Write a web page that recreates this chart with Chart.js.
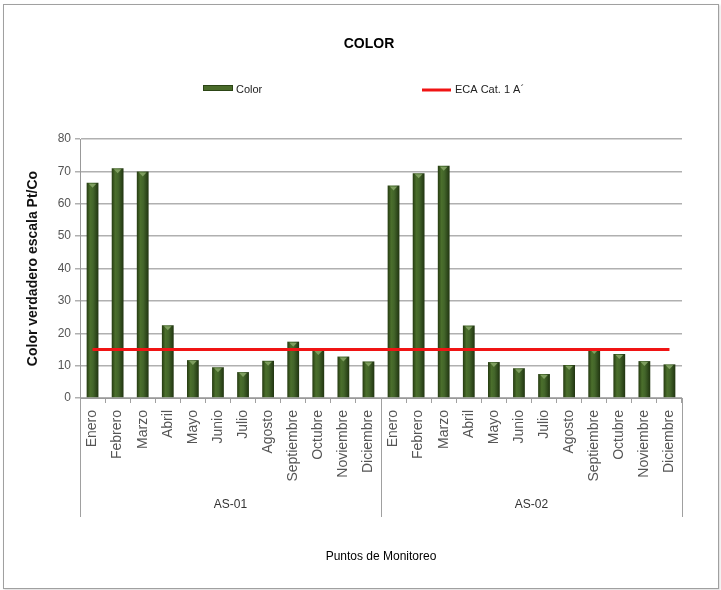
<!DOCTYPE html>
<html>
<head>
<meta charset="utf-8">
<title>COLOR</title>
<script src="https://cdn.jsdelivr.net/npm/chart.js@4.4.1/dist/chart.umd.min.js"></script>
<style>
  html, body { margin: 0; padding: 0; background: #fff; }
  #wrap { position: relative; width: 721px; height: 590px; }
  #colorChart { display: block; }
  #frame {
    position: absolute; left: 3px; top: 4px; width: 714px; height: 583px;
    border: 1px solid #a0a0a0; box-shadow: 1px 1px 2px rgba(0,0,0,0.15);
    pointer-events: none;
  }
</style>
</head>
<body>
<div id="wrap">
  <canvas id="colorChart" width="721" height="590"></canvas>
  <div id="frame"></div>
</div>
<script>
// chart data
const chartTitle = 'COLOR';
const months = ['Enero', 'Febrero', 'Marzo', 'Abril', 'Mayo', 'Junio', 'Julio', 'Agosto', 'Septiembre', 'Octubre', 'Noviembre', 'Diciembre'];
const stations = ['AS-01', 'AS-02'];
const colorAS01 = [66.5, 71, 70, 22.5, 11.7, 9.5, 8, 11.5, 17.4, 14.8, 12.8, 11.3];
const colorAS02 = [65.6, 69.4, 71.7, 22.4, 11.1, 9.2, 7.4, 10.2, 15.1, 13.6, 11.4, 10.4];
const ecaLimit = [15, 15, 15, 15, 15, 15, 15, 15, 15, 15, 15, 15, 15, 15, 15, 15, 15, 15, 15, 15, 15, 15, 15, 15];
const yMin = 0, yMax = 80, yStep = 10;

const categories = stations.flatMap(() => months);
const colorValues = colorAS01.concat(colorAS02);

const FONT = "'Liberation Sans', Arial, sans-serif";
const barPct = 0.47;

// cylinder-like shading for each bar
function barFill(context) {
  const chart = context.chart;
  const xScale = chart.scales.x;
  if (!xScale || context.dataIndex === undefined) return '#3f5f22';
  const x = xScale.getPixelForValue(context.dataIndex);
  const half = (xScale.width / categories.length) * barPct / 2;
  if (!Number.isFinite(x) || !Number.isFinite(half) || half <= 0) return '#3f5f22';
  const g = chart.ctx.createLinearGradient(x - half, 0, x + half, 0);
  g.addColorStop(0, '#243a10');
  g.addColorStop(0.3, '#4b6f2c');
  g.addColorStop(0.55, '#43652a');
  g.addColorStop(1, '#203410');
  return g;
}

// title, legend, station groups and bar caps
const decorPlugin = {
  id: 'decor',
  afterDatasetDraw(chart, args) {
    if (args.meta.type !== 'bar') return;
    const ctx = chart.ctx;
    ctx.save();
    ctx.fillStyle = '#7e9e5f';
    args.meta.data.forEach(bar => {
      const p = bar.getProps(['x', 'y', 'width'], true);
      const w = p.width * 0.32;
      ctx.beginPath();
      ctx.moveTo(p.x - w, p.y + 1);
      ctx.lineTo(p.x + w, p.y + 1);
      ctx.lineTo(p.x, p.y + 5);
      ctx.closePath();
      ctx.fill();
    });
    ctx.restore();
  },
  afterDraw(chart) {
    const ctx = chart.ctx;
    const xs = chart.scales.x;
    const ds = chart.data.datasets;
    ctx.save();

    // title
    ctx.fillStyle = '#000';
    ctx.font = 'bold 14px ' + FONT;
    ctx.textAlign = 'center';
    ctx.textBaseline = 'middle';
    ctx.fillText(chartTitle, 369, 44);

    // legend
    ctx.font = '11px ' + FONT;
    ctx.textAlign = 'left';
    ctx.fillStyle = '#4a6b2a';
    ctx.fillRect(203, 85, 30, 6);
    ctx.strokeStyle = '#2c4516';
    ctx.lineWidth = 1;
    ctx.strokeRect(203.5, 85.5, 29, 5);
    ctx.fillStyle = '#222';
    ctx.fillText(ds[0].label, 236, 90);
    ctx.strokeStyle = ds[1].borderColor;
    ctx.lineWidth = 3;
    ctx.beginPath();
    ctx.moveTo(422, 90);
    ctx.lineTo(451, 90);
    ctx.stroke();
    ctx.fillText(ds[1].label, 455, 90);

    // station group separators and labels
    const bottom = chart.chartArea.bottom;
    ctx.strokeStyle = '#a0a0a0';
    ctx.lineWidth = 1;
    const edges = [xs.left];
    stations.forEach((s, i) => {
      const last = (i + 1) * months.length - 1;
      edges.push(i === stations.length - 1 ? xs.right
        : (xs.getPixelForValue(last) + xs.getPixelForValue(last + 1)) / 2);
    });
    edges.forEach(x => {
      ctx.beginPath();
      ctx.moveTo(Math.round(x) + 0.5, bottom);
      ctx.lineTo(Math.round(x) + 0.5, bottom + 119);
      ctx.stroke();
    });
    ctx.font = '12px ' + FONT;
    ctx.fillStyle = '#333';
    ctx.textAlign = 'center';
    stations.forEach((s, i) => {
      const a = xs.getPixelForValue(i * months.length);
      const b = xs.getPixelForValue((i + 1) * months.length - 1);
      ctx.fillText(s, (a + b) / 2, 505);
    });
    ctx.restore();
  }
};

const ctx = document.getElementById('colorChart').getContext('2d');
const colorChart = new Chart(ctx, {
  type: 'bar',
  data: {
    labels: categories,
    datasets: [{
      type: 'bar',
      label: 'Color',
      data: colorValues,
      backgroundColor: barFill,
      borderWidth: 0,
      barPercentage: barPct,
      categoryPercentage: 1,
      order: 1
    }, {
      type: 'line',
      label: 'ECA Cat. 1 A´',
      data: ecaLimit,
      borderColor: '#f01414',
      borderWidth: 3,
      pointRadius: 0,
      fill: false,
      order: 0
    }]
  },
  options: {
    responsive: false,
    animation: false,
    layout: { padding: { top: 139, left: 14, right: 39, bottom: 20 } },
    plugins: {
      legend: { display: false },
      title: { display: false },
      tooltip: { enabled: false }
    },
    scales: {
      x: {
        afterFit(scale) { scale.height = 172; },
        grid: { drawOnChartArea: false, drawTicks: true, tickLength: 5, color: '#a0a0a0' },
        border: { display: true, color: '#999' },
        ticks: {
          autoSkip: false, minRotation: 90, maxRotation: 90, padding: 7,
          color: '#555', font: { family: FONT, size: 14 }
        },
        title: {
          display: true, text: 'Puntos de Monitoreo', color: '#000',
          font: { family: FONT, size: 12 }, padding: { top: 0, bottom: 6 }
        }
      },
      y: {
        min: yMin, max: yMax,
        afterFit(scale) { scale.width = 66; },
        grid: { color: '#b0b0b0', lineWidth: 1.5, tickLength: 5 },
        border: { display: true, color: '#999' },
        ticks: { stepSize: yStep, padding: 4, color: '#555', font: { family: FONT, size: 12 } },
        title: {
          display: true, text: 'Color verdadero escala Pt/Co', color: '#111',
          font: { family: FONT, size: 14, weight: 'bold' }, padding: { top: 11, bottom: 0 }
        }
      }
    }
  },
  plugins: [decorPlugin]
});
</script>
</body>
</html>
